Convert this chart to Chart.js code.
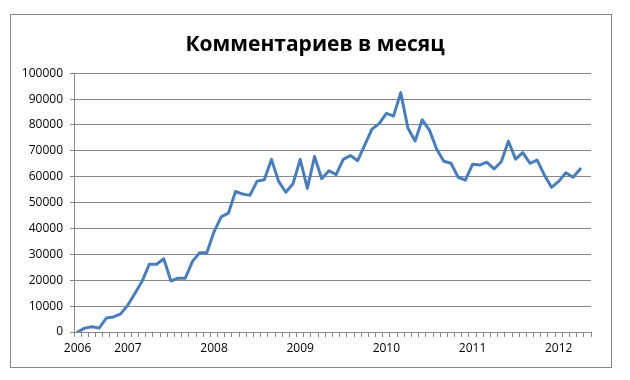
<!DOCTYPE html>
<html>
<head>
<meta charset="utf-8">
<script src="https://cdn.jsdelivr.net/npm/chart.js@4"></script>
<style>
    html, body { margin: 0; padding: 0; background: #fff; }
    #wrap { width: 630px; height: 380px; }
</style>
</head>
<body>
<div id="wrap"><canvas id="comments-chart" width="630" height="380"></canvas></div>
<script>
// months from June 2006 to May 2012
const startYear = 2006;
const startMonth = 6;
const monthCount = 72;

const comments = [
    0, 1500, 2000, 1500, 5400, 5800, 7000,
    10400, 15000, 19700, 26200, 26200, 28300, 19700, 20800, 20800, 27300, 30600, 30600,
    38700, 44500, 45900, 54300, 53300, 52800, 58300, 58800, 66700, 58200, 54000, 57300,
    66700, 55500, 67800, 59200, 62300, 60800, 66700, 68200, 66200, 72300, 78400, 80500,
    84500, 83400, 92500, 78800, 73800, 82000, 78000, 70700, 66000, 65200, 59800, 58700,
    64800, 64500, 65600, 63000, 65800, 73700, 66800, 69300, 65200, 66400, 60700, 55900,
    58200, 61500, 59800, 63000,
    null
];

const yTicks = { min: 0, max: 100000, step: 10000 };

const months = [];
for (let i = 0; i < monthCount; i++) {
    const m = startMonth - 1 + i;
    const y = startYear + Math.floor(m / 12);
    const mm = (m % 12) + 1;
    months.push(y + '-' + (mm < 10 ? '0' + mm : mm));
}

const axisColor = '#868686';
const font = 'Open Sans';

// white background and the outer frame of the chart
const framePlugin = {
    id: 'frame',
    beforeDraw(chart) {
        const ctx = chart.ctx;
        ctx.save();
        ctx.fillStyle = '#ffffff';
        ctx.fillRect(0, 0, chart.width, chart.height);
        ctx.strokeStyle = axisColor;
        ctx.lineWidth = 1;
        ctx.strokeRect(10.5, 14.5, 601, 353);
        ctx.restore();
    }
};

const ctx = document.getElementById('comments-chart').getContext('2d');

new Chart(ctx, {
    type: 'line',
    data: {
        labels: months,
        datasets: [{
            label: 'Комментариев',
            data: comments,
            borderColor: '#4a7ebb',
            borderWidth: 3,
            borderJoinStyle: 'round',
            borderCapStyle: 'round',
            pointRadius: 0,
            tension: 0,
            fill: false
        }]
    },
    options: {
        responsive: false,
        animation: false,
        layout: {
            padding: { left: 0, right: 0, top: 0, bottom: 0 }
        },
        plugins: {
            legend: { display: false },
            tooltip: { enabled: false },
            title: {
                display: true,
                text: 'Комментариев в месяц',
                color: '#000000',
                font: { family: font, size: 21, weight: 'bold', lineHeight: 1.2 },
                padding: { top: 32, bottom: 16 }
            }
        },
        scales: {
            x: {
                type: 'category',
                offset: true,
                grid: {
                    offset: true,
                    drawOnChartArea: false,
                    drawTicks: true,
                    tickLength: 5,
                    color: axisColor
                },
                border: { color: axisColor, width: 1 },
                ticks: {
                    autoSkip: false,
                    maxRotation: 0,
                    padding: 4,
                    color: '#000000',
                    font: { family: font, size: 12 },
                    callback: function (value, index) {
                        const label = months[index];
                        if (index === 0 || label.endsWith('-01')) {
                            return label.slice(0, 4);
                        }
                        return '';
                    }
                },
                afterFit: scale => { scale.height = 48; }
            },
            y: {
                min: yTicks.min,
                max: yTicks.max,
                grid: {
                    color: axisColor,
                    lineWidth: 1,
                    drawTicks: true,
                    tickLength: 4
                },
                border: { color: axisColor, width: 1 },
                ticks: {
                    stepSize: yTicks.step,
                    padding: 7,
                    color: '#000000',
                    font: { family: font, size: 12 },
                    callback: value => String(value)
                },
                afterFit: scale => { scale.width = 74; }
            },
            // empty right-hand gutter so the title stays centred on the frame
            gutter: {
                position: 'right',
                display: true,
                grid: { display: false },
                border: { display: false },
                ticks: { display: false },
                afterFit: scale => { scale.width = 39; }
            }
        }
    },
    plugins: [framePlugin]
});
</script>
</body>
</html>
